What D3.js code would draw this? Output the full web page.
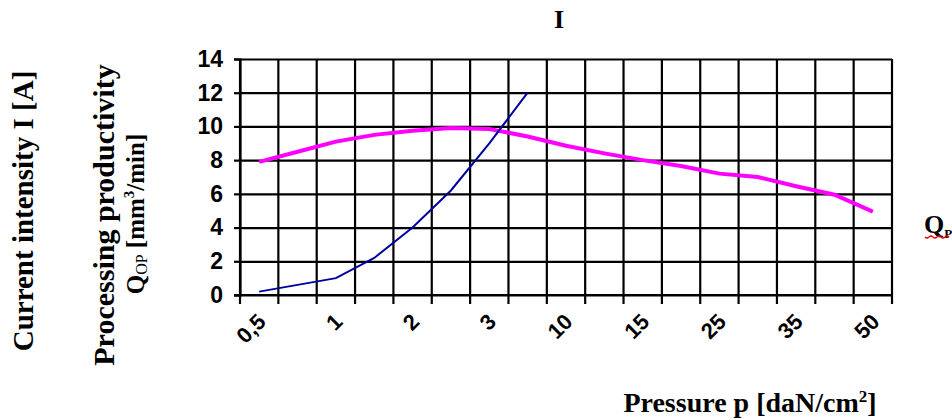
<!DOCTYPE html>
<html lang="en">
<head>
<meta charset="utf-8">
<title>Current intensity and productivity vs pressure</title>
<style>
body{
  margin: 0;
  background: #fff;
}
svg text.serif{
  font-family: "Liberation Serif", "Times New Roman", serif;
  font-weight: bold;
  fill: #000;
}
</style>
</head>
<body>
<div id="chart"></div>
<script src="https://d3js.org/d3.v7.min.js"></script>
<script>

const width = 952;
const height = 419;
const plot = { left: 240, right: 892, top: 59, bottom: 295 };

// pressure categories (only every other one is labelled)
const categories = ["0,5", "0,75", "1", "1,5", "2", "2,5", "3", "5", "10", "12,5",
                    "15", "20", "25", "30", "35", "40", "50"];
// current intensity I [A]
const currentI = [0.2, 0.6, 1.0, 2.2, 4.0, 6.2, 9.0, 12.0];
// processing productivity Qop [mm3/min]
const productivity = [7.9, 8.5, 9.1, 9.5, 9.75, 9.9, 9.85, 9.4, 8.85, 8.4, 8.0,
                      7.65, 7.2, 7.0, 6.45, 5.95, 4.95];
const yTicks = [0, 2, 4, 6, 8, 10, 12, 14];

const svg = d3.select('#chart')
  .append('svg')
  .attr('width', width)
  .attr('height', height);

const xS = d3.scaleBand()
  .domain(categories)
  .range([plot.left, plot.right])
  .padding(0);

const yS = d3.scaleLinear()
  .domain([0, 14])
  .range([plot.bottom, plot.top]);

const cx = c => xS(c) + xS.bandwidth() / 2;

// horizontal grid
svg.append('g')
  .attr('transform', 'translate(' + plot.left + ',0)')
  .call(d3.axisLeft(yS).tickValues(yTicks).tickSize(-(plot.right - plot.left)).tickFormat(''))
  .call(g => g.select('.domain').remove())
  .call(g => g.selectAll('line').attr('stroke', '#000').attr('stroke-width', 2.2));

// vertical grid at category boundaries
const bounds = categories.map(c => xS(c)).concat([xS.range()[1]]);
svg.append('g')
  .selectAll('line')
  .data(bounds)
  .join('line')
  .attr('x1', d => d).attr('x2', d => d)
  .attr('y1', plot.top).attr('y2', plot.bottom + 9)
  .attr('stroke', '#000')
  .attr('stroke-width', 2.2);

// y axis
svg.append('g')
  .attr('transform', 'translate(' + plot.left + ',0)')
  .call(d3.axisLeft(yS).tickValues(yTicks).tickSize(6).tickPadding(11))
  .call(g => g.select('.domain').attr('stroke', '#000').attr('stroke-width', 2.2))
  .call(g => g.selectAll('.tick line').attr('stroke', '#000').attr('stroke-width', 2.2))
  .call(g => g.selectAll('.tick text')
    .attr('fill', '#000')
    .attr('font-family', '"Liberation Sans", Arial, sans-serif')
    .attr('font-weight', 'bold')
    .attr('font-size', 23));

// x axis line
svg.append('line')
  .attr('x1', plot.left - 6).attr('x2', plot.right)
  .attr('y1', yS(0)).attr('y2', yS(0))
  .attr('stroke', '#000')
  .attr('stroke-width', 2.2);

// x labels, rotated
svg.append('g')
  .selectAll('text')
  .data(categories.filter((c, i) => i % 2 === 0))
  .join('text')
  .attr('transform', d => 'translate(' + (cx(d) + 8) + ',' + 323 + ') rotate(-45)')
  .attr('text-anchor', 'end')
  .attr('font-family', '"Liberation Sans", Arial, sans-serif')
  .attr('font-weight', 'bold')
  .attr('font-size', 22)
  .text(d => d);

// lines
const line = d3.line()
  .x((d, i) => cx(categories[i]))
  .y(d => yS(d));

svg.append('path')
  .datum(productivity)
  .attr('d', line)
  .attr('fill', 'none')
  .attr('stroke', '#ff00ff')
  .attr('stroke-width', 4);

svg.append('path')
  .datum(currentI)
  .attr('d', line)
  .attr('fill', 'none')
  .attr('stroke', '#0000a0')
  .attr('stroke-width', 2);

// titles
svg.append('text')
  .attr('class', 'serif')
  .attr('x', 559).attr('y', 28)
  .attr('text-anchor', 'middle')
  .style('font-size', '26px')
  .text('I');

const qp = svg.append('text')
  .attr('class', 'serif')
  .attr('x', 924).attr('y', 233)
  .style('font-size', '26px');
qp.append('tspan').text('Q');
qp.append('tspan').attr('dy', 5).style('font-size', '13px').text('P');
svg.append('path')
  .attr('d', 'M925,237 q2,2 4,0 t4,0 t4,0 t4,0 t4,0 t4,0')
  .attr('fill', 'none')
  .attr('stroke', '#e00')
  .attr('stroke-width', 1.2);

const xt = svg.append('text')
  .attr('class', 'serif')
  .attr('x', 750).attr('y', 412)
  .attr('text-anchor', 'middle')
  .style('font-size', '28px');
xt.append('tspan').text('Pressure p [daN/cm');
xt.append('tspan').attr('dy', -10).style('font-size', '17px').text('2');
xt.append('tspan').attr('dy', 10).text(']');

svg.append('text')
  .attr('class', 'serif')
  .attr('transform', 'translate(33,211) rotate(-90)')
  .attr('text-anchor', 'middle')
  .style('font-size', '29px')
  .text('Current intensity I [A]');

svg.append('text')
  .attr('class', 'serif')
  .attr('transform', 'translate(114,215) rotate(-90)')
  .attr('text-anchor', 'middle')
  .style('font-size', '30px')
  .text('Processing productivity');

const q2 = svg.append('text')
  .attr('class', 'serif')
  .attr('transform', 'translate(144,214) rotate(-90)')
  .attr('text-anchor', 'middle')
  .style('font-size', '25px');
q2.append('tspan').text('Q');
q2.append('tspan').attr('dy', 3).style('font-size', '16px').style('font-weight', 'normal').text('OP');
q2.append('tspan').attr('dy', -3).text(' [mm');
q2.append('tspan').attr('dy', -10).style('font-size', '15px').text('3');
q2.append('tspan').attr('dy', 10).text('/min]');

</script>
</body>
</html>
